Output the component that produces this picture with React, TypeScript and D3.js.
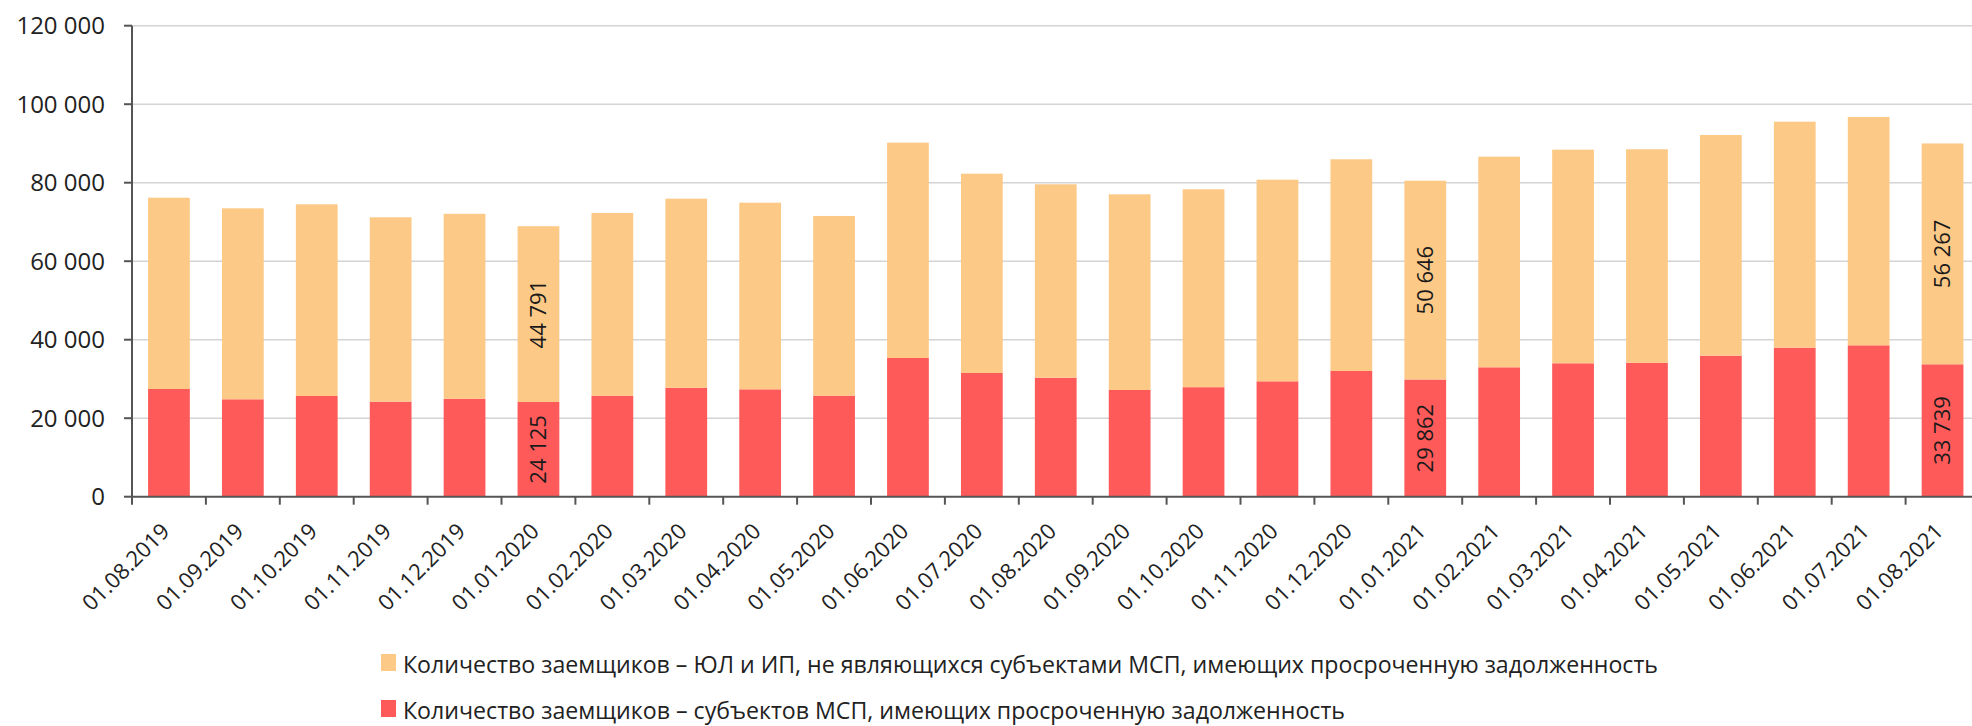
import React from "react";
import * as d3 from "d3";

// Borrowers with overdue debt, monthly snapshots
const dates = [
  "01.08.2019", "01.09.2019", "01.10.2019", "01.11.2019", "01.12.2019",
  "01.01.2020", "01.02.2020", "01.03.2020", "01.04.2020", "01.05.2020",
  "01.06.2020", "01.07.2020", "01.08.2020", "01.09.2020", "01.10.2020",
  "01.11.2020", "01.12.2020", "01.01.2021", "01.02.2021", "01.03.2021",
  "01.04.2021", "01.05.2021", "01.06.2021", "01.07.2021", "01.08.2021",
];
// субъекты МСП
const smeBorrowers = [
  27440, 24820, 25660, 24210, 24970, 24125, 25735, 27770, 27360, 25735,
  35340, 31520, 30320, 27190, 27900, 29400, 32030, 29862, 32970, 33990,
  34140, 35930, 37970, 38570, 33739,
];
// ЮЛ и ИП, не являющиеся субъектами МСП
const nonSmeBorrowers = [
  48740, 48660, 48840, 46980, 47110, 44791, 46560, 48160, 47550, 45790,
  54860, 50780, 49280, 49860, 50420, 51370, 53940, 50646, 53660, 54430,
  54380, 56230, 57580, 58180, 56267,
];
const labelledDates = ["01.01.2020", "01.01.2021", "01.08.2021"];
const yTicks = [0, 20000, 40000, 60000, 80000, 100000, 120000];
const legendItems = [
  { key: "nonSme", label: "Количество заемщиков – ЮЛ и ИП, не являющихся субъектами МСП, имеющих просроченную задолженность" },
  { key: "sme", label: "Количество заемщиков – субъектов МСП, имеющих просроченную задолженность" },
];

const width = 1972;
const height = 726;
const colors: Record<string, string> = { nonSme: "#FDC987", sme: "#FF5A5A" };
const font = "'Open Sans', sans-serif";
const fmt = d3
  .formatLocale({ decimal: ",", thousands: "\u00a0", grouping: [3], currency: ["", ""] })
  .format(",d");

export default function App() {
  const x = d3
    .scaleBand<string>()
    .domain(dates)
    .range([132, 1979.5])
    .paddingInner(0.435)
    .paddingOuter(0.2175);
  const y = d3.scaleLinear().domain([0, 120000]).range([496.7, 25.7]);

  const rows = dates.map((date, i) => ({ date, sme: smeBorrowers[i], nonSme: nonSmeBorrowers[i] }));
  const layers = d3.stack<any>().keys(["sme", "nonSme"])(rows);

  const step = x.step();
  const gap = (step - x.bandwidth()) / 2;
  const x0 = x.range()[0];
  const y0 = y(0);

  return (
    <svg width={width} height={height} style={{ position: "absolute", left: 0, top: 0 }} fontFamily={font}>
      {/* grid */}
      {yTicks.filter((t) => t > 0).map((t) => (
        <line key={t} x1={x0} x2={width} y1={y(t)} y2={y(t)} stroke="#d4d4d4" strokeWidth={1.5} />
      ))}

      {/* bars */}
      {layers.map((layer) => (
        <g key={layer.key} fill={colors[layer.key]}>
          {layer.map((d: any) => (
            <rect
              key={d.data.date}
              x={x(d.data.date)}
              y={y(d[1])}
              width={x.bandwidth()}
              height={y(d[0]) - y(d[1])}
            />
          ))}
        </g>
      ))}

      {/* value labels */}
      {layers.map((layer) =>
        layer
          .filter((d: any) => labelledDates.includes(d.data.date))
          .map((d: any) => {
            const cx = (x(d.data.date) as number) + x.bandwidth() / 2;
            const cy = (y(d[0]) + y(d[1])) / 2;
            return (
              <text
                key={layer.key + d.data.date}
                transform={`translate(${cx},${cy}) rotate(-90)`}
                textAnchor="middle"
                dy="0.36em"
                fontSize={22}
                fill="#1a1a1a"
              >
                {fmt(d[1] - d[0])}
              </text>
            );
          })
      )}

      {/* y axis */}
      <line x1={x0} x2={x0} y1={y(120000)} y2={y0 + 8} stroke="#555" strokeWidth={2} />
      {yTicks.map((t) => (
        <g key={t} transform={`translate(0,${y(t)})`}>
          <line x1={x0 - 8} x2={x0} stroke="#555" strokeWidth={2} />
          <text x={105} dy="0.36em" textAnchor="end" fontSize={24} fill="#222">
            {fmt(t)}
          </text>
        </g>
      ))}

      {/* x axis */}
      <line x1={x0} x2={width} y1={y0} y2={y0} stroke="#555" strokeWidth={2} />
      {dates.map((d) => {
        const bx = (x(d) as number) + x.bandwidth() + gap;
        const cx = (x(d) as number) + x.bandwidth() / 2;
        return (
          <g key={d}>
            <line x1={bx} x2={bx} y1={y0} y2={y0 + 8} stroke="#555" strokeWidth={2} />
            <text
              transform={`translate(${cx + 2},${y0 + 36}) rotate(-45)`}
              textAnchor="end"
              fontSize={22}
              fill="#222"
            >
              {d}
            </text>
          </g>
        );
      })}

      {/* legend */}
      {legendItems.map((item, i) => {
        const base = 673 + i * 46;
        return (
          <g key={item.key}>
            <rect x={381} y={base - 19} width={15} height={17} fill={colors[item.key]} />
            <text
              x={403}
              y={base}
              fontSize={24}
              fill="#222"
              textLength={i === 0 ? 1255 : 942}
              lengthAdjust="spacingAndGlyphs"
            >
              {item.label}
            </text>
          </g>
        );
      })}
    </svg>
  );
}
